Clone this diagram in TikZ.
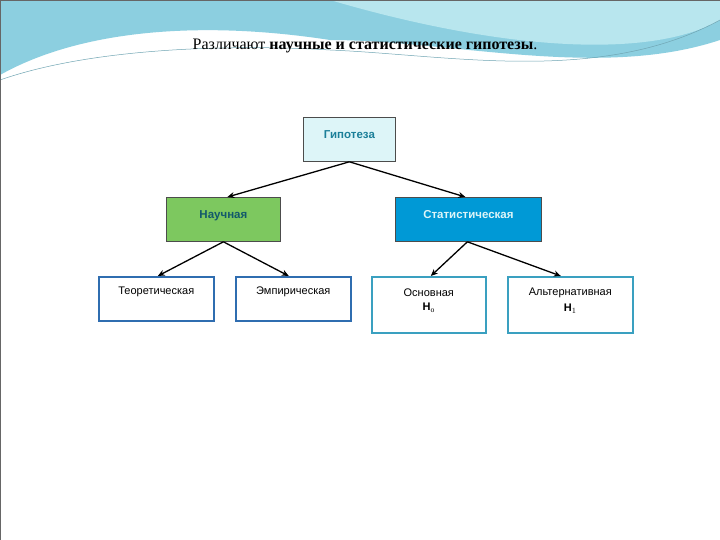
\documentclass[tikz,border=0pt]{standalone}
\usepackage{fontspec}
\setmainfont{Liberation Serif}
\newfontfamily\sansf{Liberation Sans}
\usetikzlibrary{arrows.meta}
\definecolor{hyp}{HTML}{DDF5F8}
\definecolor{sci}{HTML}{7DC85F}
\definecolor{stat}{HTML}{0099D6}
\definecolor{bd1}{HTML}{2F6DB0}
\definecolor{bd2}{HTML}{3AA0C0}
\definecolor{ttl}{HTML}{1B7F99}
\definecolor{sky1}{HTML}{8CCFE0}
\definecolor{sky2}{HTML}{B8E6EE}
\begin{document}
\begin{tikzpicture}[x=1pt,y=-1pt,
  box/.style={draw,line width=1.6pt,minimum height=44pt,anchor=north west,align=center,inner sep=0pt},
  leaf/.style={box,draw=bd1,fill=white,font=\sansf\fontsize{11}{13}\selectfont,text depth=0pt},
  leaf2/.style={leaf,draw=bd2,minimum height=56pt},
  head/.style={box,draw=black!70,line width=0.8pt,font=\sansf\bfseries\fontsize{11.5}{13}\selectfont},
  arr/.style={-{Stealth[length=7pt,width=6pt]},line width=1.3pt}]
\useasboundingbox (0,0) rectangle (720,540);
\fill[white] (0,0) rectangle (720,540);
\fill[sky1] (0,0) -- (720,0) -- (720,40) .. controls (600,80) and (450,40) .. (330,40)
  .. controls (200,20) and (80,30) .. (0,75) -- cycle;
\fill[sky2] (330,0) -- (720,0) -- (720,20) .. controls (650,60) and (500,50) .. (330,0) -- cycle;
\draw[sky1!80!black,line width=0.5pt] (0,80) .. controls (100,45) and (250,45) .. (330,50) .. controls (450,55) and (600,85) .. (720,20);
\draw[black!60,line width=0.8pt] (0,0) rectangle (720,540);
\node[font=\fontsize{16}{18}\selectfont] (title) at (365,46) {Различают \textbf{научные и статистические гипотезы}.};
\node[head,fill=hyp,minimum width=92pt,text=ttl] (h) at (303,117) {\raisebox{10pt}{Гипотеза}};
\node[head,fill=sci,minimum width=114pt,text=ttl!70!black] (n) at (166,197) {\raisebox{10pt}{Научная}};
\node[head,fill=stat,minimum width=146pt,text=hyp] (s) at (395,197) {\raisebox{10pt}{Статистическая}};
\node[leaf,minimum width=115pt] (t) at (98,276) {\raisebox{16pt}{Теоретическая}};
\node[leaf,minimum width=115pt] (e) at (235,276) {\raisebox{16pt}{Эмпирическая}};
\node[leaf2,minimum width=114pt] (o) at (371,276) {\raisebox{10pt}{\shortstack{Основная\\[3pt]\textbf{H}$_\mathrm{o}$}}};
\node[leaf2,minimum width=125pt] (a) at (507,276) {\raisebox{10pt}{\shortstack{Альтернативная\\[3pt]\textbf{H}$_1$}}};
\draw[arr] (h.south) -- ([xshift=4pt]n.north);
\draw[arr] (h.south) -- ([xshift=-3pt]s.north);
\draw[arr] ([xshift=0pt]n.south) -- ([xshift=1.5pt]t.north);
\draw[arr] ([xshift=0pt]n.south) -- ([xshift=-4.5pt]e.north);
\draw[arr] ([xshift=-1pt]s.south) -- ([xshift=2pt]o.north);
\draw[arr] ([xshift=-1pt]s.south) -- ([xshift=-9.5pt]a.north);
\end{tikzpicture}
\end{document}
